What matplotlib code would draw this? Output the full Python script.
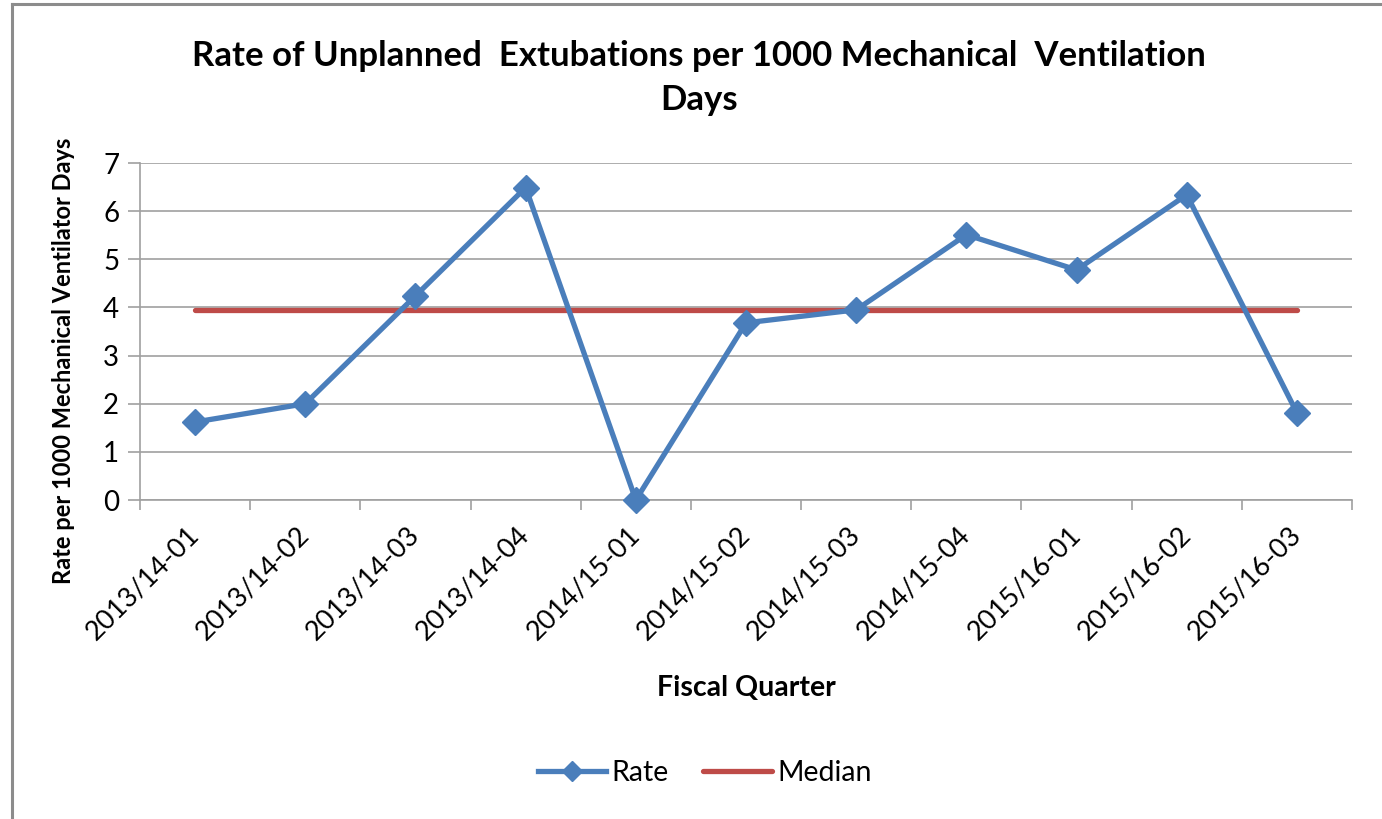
import numpy as np
import matplotlib.pyplot as plt
from matplotlib.lines import Line2D

plt.rc('font', family=['Lato', 'DejaVu Sans'])

quarters = ['2013/14-01', '2013/14-02', '2013/14-03', '2013/14-04',
            '2014/15-01', '2014/15-02', '2014/15-03', '2014/15-04',
            '2015/16-01', '2015/16-02', '2015/16-03']
rate = [1.62, 2.0, 4.24, 6.49, 0.0, 3.68, 3.95, 5.51, 4.78, 6.34, 1.81]
median = [3.95] * len(quarters)

blue = '#4A7EBB'
red = '#BE4B48'
grid_col = '#A0A0A0'

fig = plt.figure(figsize=(13.82, 8.19), dpi=100)
ax = fig.add_axes([140/1382, 1-500/819, (1352-140)/1382, (500-163)/819])

x = np.arange(len(quarters))
ax.plot(x, rate, color=blue, lw=3.8, marker='D', markersize=13,
        solid_joinstyle='miter', label='Rate', zorder=3, clip_on=False)
ax.plot(x, median, color=red, lw=3.8, solid_capstyle='round',
        label='Median', zorder=2)

ax.set_xlim(-0.5, len(quarters) - 0.5)
ax.set_ylim(0, 7)
ax.set_yticks(range(0, 8))
ax.set_xticks(x)
ax.set_xticklabels(quarters, rotation=45, ha='right', va='center',
                   rotation_mode='anchor', fontsize=19.5)
ax.set_xticks(np.arange(-0.5, len(quarters)), minor=True)
ax.tick_params(axis='x', which='major', length=0, pad=22)
ax.tick_params(axis='x', which='minor', length=7, color=grid_col, width=1.2)
ax.tick_params(axis='y', length=9, color=grid_col, width=1.2, labelsize=20, pad=6)

ax.grid(axis='y', color=grid_col, lw=1.2)
ax.set_axisbelow(True)
for s in ['top', 'right']:
    ax.spines[s].set_visible(False)
for s in ['left', 'bottom']:
    ax.spines[s].set_color(grid_col)
    ax.spines[s].set_linewidth(1.2)

ax.set_xlabel('Fiscal Quarter', fontsize=20.5, fontweight='bold')
ax.xaxis.set_label_coords((746-140)/1212, -(675-500)/337)
ax.set_ylabel('Rate per 1000 Mechanical Ventilator Days', fontsize=17,
              fontweight='bold')
ax.yaxis.set_label_coords((75-140)/1212, (500-361)/337)

fig.text(0.506, 1 - 78/819, 'Rate of Unplanned  Extubations per 1000 Mechanical  Ventilation\nDays',
         ha='center', va='center', fontsize=25, fontweight='bold', linespacing=1.45)

handles = [Line2D([], [], color=blue, lw=3.8, marker='D', markersize=10),
           Line2D([], [], color=red, lw=3.8, solid_capstyle='round')]
fig.legend(handles, ['Rate', 'Median'], loc='center', bbox_to_anchor=(0.51, 1 - 773/819),
           ncol=2, frameon=False, fontsize=20.5, handlelength=2.4, columnspacing=1.2,
           handletextpad=0.2)

# chart frame (left and top edges visible)
fig.add_artist(Line2D([12/1382, 12/1382], [0, 1 - 4/819], color='#8C8C8C', lw=2.2,
                      transform=fig.transFigure))
fig.add_artist(Line2D([12/1382, 1], [1 - 4/819, 1 - 4/819], color='#8C8C8C', lw=2.2,
                      transform=fig.transFigure))

fig.savefig('out.png', dpi=100)
